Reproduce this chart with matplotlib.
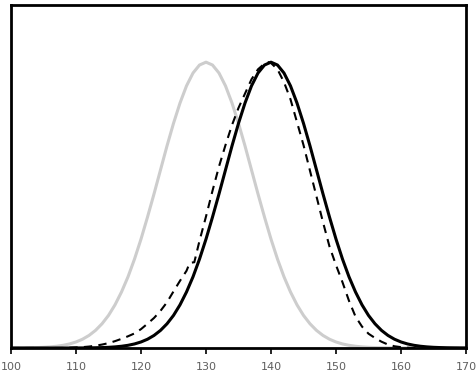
import matplotlib
matplotlib.use("Agg")
import matplotlib.pyplot as plt

# x positions (integer steps)
x = list(range(100, 171))

# grey curve (centred at 130)
grey = [0.0002, 0.0003, 0.0005, 0.0009, 0.0015, 0.0024, 0.0039, 0.0061, 0.0094, 0.0142,
        0.0211, 0.0307, 0.0439, 0.0616, 0.0847, 0.114, 0.151, 0.196, 0.249, 0.311,
        0.381, 0.458, 0.539, 0.623, 0.707, 0.786, 0.857, 0.917, 0.962, 0.990,
        1.000, 0.990, 0.962, 0.917, 0.857, 0.786, 0.707, 0.623, 0.539, 0.458,
        0.381, 0.311, 0.249, 0.196, 0.151, 0.114, 0.0847, 0.0616, 0.0439, 0.0307,
        0.0211, 0.0142, 0.0094, 0.0061, 0.0039, 0.0024, 0.0015, 0.0009, 0.0005, 0.0003,
        0.0002, 0.0001, 0.0, 0.0, 0.0, 0.0, 0.0, 0.0, 0.0, 0.0, 0.0]

# solid black curve (centred at 140)
solid = [0.0, 0.0, 0.0, 0.0, 0.0, 0.0, 0.0, 0.0, 0.0, 0.0001,
         0.0002, 0.0003, 0.0005, 0.0009, 0.0015, 0.0024, 0.0039, 0.0061, 0.0094, 0.0142,
         0.0211, 0.0307, 0.0439, 0.0616, 0.0847, 0.114, 0.151, 0.196, 0.249, 0.311,
         0.381, 0.458, 0.539, 0.623, 0.707, 0.786, 0.857, 0.917, 0.962, 0.990,
         1.000, 0.990, 0.962, 0.917, 0.857, 0.786, 0.707, 0.623, 0.539, 0.458,
         0.381, 0.311, 0.249, 0.196, 0.151, 0.114, 0.0847, 0.0616, 0.0439, 0.0307,
         0.0211, 0.0142, 0.0094, 0.0061, 0.0039, 0.0024, 0.0015, 0.0009, 0.0005, 0.0003,
         0.0002]

# dashed curve (own x positions)
dash_x = [100, 105, 108, 109, 110, 111, 112, 113, 114, 115, 116, 117, 118, 119, 120,
          121, 122, 123, 124, 125, 126, 127, 127.5, 128.2, 129, 130, 131, 132, 133, 134,
          135, 136, 137, 138, 139, 139.6, 140, 141, 142, 143, 144, 145, 146, 147, 148,
          149, 150, 151, 152, 153, 154, 155, 156, 157, 158, 159, 160, 161, 162, 165, 170]
dash_y = [0.0, 0.0, 0.0, 0.001, 0.002, 0.003, 0.005, 0.008, 0.012, 0.017, 0.024, 0.032, 0.041, 0.051, 0.066,
          0.085, 0.105, 0.13, 0.16, 0.198, 0.235, 0.27, 0.298, 0.30, 0.375, 0.46, 0.55, 0.635, 0.71, 0.78,
          0.84, 0.89, 0.94, 0.975, 0.995, 1.0, 0.997, 0.975, 0.93, 0.87, 0.79, 0.71, 0.62, 0.53, 0.44,
          0.355, 0.29, 0.23, 0.165, 0.11, 0.075, 0.05, 0.035, 0.022, 0.012, 0.006, 0.003, 0.001, 0.0, 0.0, 0.0]

xticks = [100, 110, 120, 130, 140, 150, 160, 170]

fig = plt.figure(figsize=(4.77, 3.76), dpi=100)
ax = fig.add_axes([11/477, (376-348)/376, (466-11)/477, (348-5)/376])

ax.plot(x, grey, color="#cdcdcd", lw=2.2)
ax.plot(x, solid, color="black", lw=2.2)
ax.plot(dash_x, dash_y, color="black", lw=1.5, dashes=(4, 3))

ax.set_xlim(100, 170)
ax.set_ylim(0, 1.2)
ax.set_xticks(xticks)
ax.set_xticklabels([str(t) for t in xticks], color="#5f5f5f", fontsize=8)
ax.set_yticks([])
ax.tick_params(axis="x", direction="out", length=4, width=1.2, color="black", pad=6)
for s in ax.spines.values():
    s.set_linewidth(2)
    s.set_color("black")

fig.savefig("out.png", dpi=100)
